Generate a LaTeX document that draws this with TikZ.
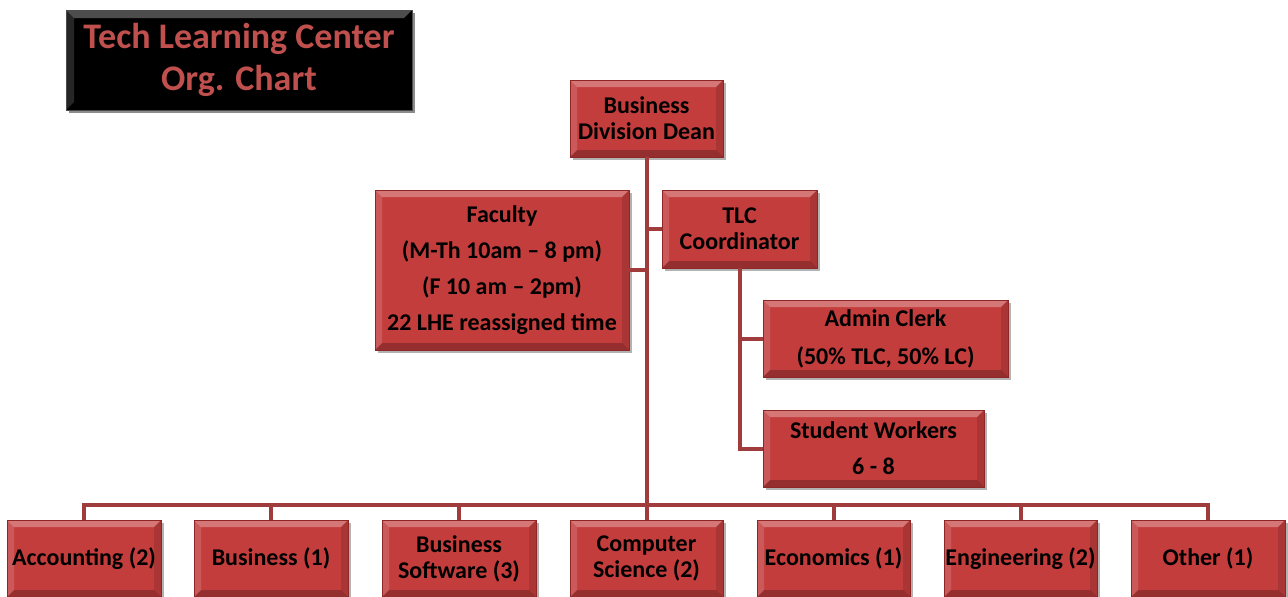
\documentclass[tikz,border=0pt]{standalone}
\usepackage{fontspec}
\setmainfont{Carlito}
\usetikzlibrary{calc,shadows}
\definecolor{boxred}{HTML}{C43D3D}
\definecolor{boxedge}{HTML}{8E2626}
\definecolor{connred}{HTML}{A03C3C}
\definecolor{titlered}{HTML}{C0504D}
\tikzset{
  bevel/.style={path picture={
      \coordinate (nw) at (path picture bounding box.north west);
      \coordinate (ne) at (path picture bounding box.north east);
      \coordinate (sw) at (path picture bounding box.south west);
      \coordinate (se) at (path picture bounding box.south east);
      \fill[white,opacity=.30] (nw) -- (ne) -- ([shift={(-#1,-#1)}]ne) -- ([shift={(#1,-#1)}]nw) -- cycle;
      \fill[white,opacity=.15] (nw) -- ([shift={(#1,-#1)}]nw) -- ([shift={(#1,#1)}]sw) -- (sw) -- cycle;
      \fill[black,opacity=.24] (sw) -- (se) -- ([shift={(-#1,#1)}]se) -- ([shift={(#1,#1)}]sw) -- cycle;
      \fill[black,opacity=.13] (ne) -- (se) -- ([shift={(-#1,#1)}]se) -- ([shift={(-#1,-#1)}]ne) -- cycle;
  }},
  orgbox/.style={rectangle, fill=boxred, draw=boxedge, line width=0.6pt, bevel=7pt,
    drop shadow={shadow xshift=2.5pt,shadow yshift=-2.5pt,opacity=.3,fill=black},
    font=\fontsize{24}{26}\selectfont\bfseries, align=center, inner sep=0pt,
    minimum width=154pt, minimum height=77pt, text=black},
  conn/.style={draw=connred, line width=4pt},
}
\begin{document}
\begin{tikzpicture}[x=1pt,y=-1pt]
\useasboundingbox (0,0) rectangle (1288,597);
% title
\node[rectangle, fill=black, draw=black!70, line width=0.6pt, bevel=8pt,
  drop shadow={shadow xshift=3pt,shadow yshift=-3pt,opacity=.45,fill=black},
  minimum width=346pt, minimum height=100pt, inner sep=0pt, align=center,
  text=titlered, font=\fontsize{36}{42}\selectfont\bfseries] (title) at (239,60)
  {Tech Learning Center\\Org. Chart};
% nodes
\node[orgbox, minimum width=153pt] (dean) at (646.5,118.5) {Business\\Division Dean};
\node[orgbox, minimum width=254pt, minimum height=160pt, font=\fontsize{24}{36}\selectfont\bfseries] (fac) at (502,270)
  {Faculty\\(M-Th 10am -- 8 pm)\\(F 10 am -- 2pm)\\22 LHE reassigned time};
\node[orgbox, minimum width=155pt, minimum height=78pt] (tlc) at (739.5,229) {TLC\\Coordinator};
\node[orgbox, minimum width=245pt, font=\fontsize{24}{38}\selectfont\bfseries] (adm) at (885.5,338.5) {Admin Clerk\\(50\% TLC, 50\% LC)};
\node[orgbox, minimum width=221pt, font=\fontsize{24}{36}\selectfont\bfseries] (stu) at (873.5,448.5) {Student Workers\\6 - 8};
\node[orgbox] (acc) at (84,558.5) {Accounting (2)};
\node[orgbox] (bus) at (271,558.5) {Business (1)};
\node[orgbox] (bsw) at (459,558.5) {Business\\Software (3)};
\node[orgbox, minimum width=153pt] (csc) at (646.5,558.5) {Computer\\Science (2)};
\node[orgbox, minimum width=153pt] (eco) at (833.5,558.5) {Economics (1)};
\node[orgbox, minimum width=153pt] (eng) at (1020.5,558.5) {Engineering (2)};
\node[orgbox] (oth) at (1208,558.5) {Other (1)};
\coordinate (busline) at (646.5,505);
% connectors
\draw[conn] (dean.south) -- (dean.south |- busline);
\draw[conn] (acc.north) -- (acc.north |- busline) -- (oth.north |- busline) -- (oth.north);
\foreach \n in {bus,bsw,csc,eco,eng}{\draw[conn] (\n.north) -- (\n.north |- busline);}
\draw[conn] (fac.east) -- (fac.east -| dean.south);
\draw[conn] (tlc.west) -- (tlc.west -| dean.south);
\draw[conn] (tlc.south) |- (stu.west);
\draw[conn] (tlc.south |- adm.west) -- (adm.west);
\end{tikzpicture}
\end{document}
